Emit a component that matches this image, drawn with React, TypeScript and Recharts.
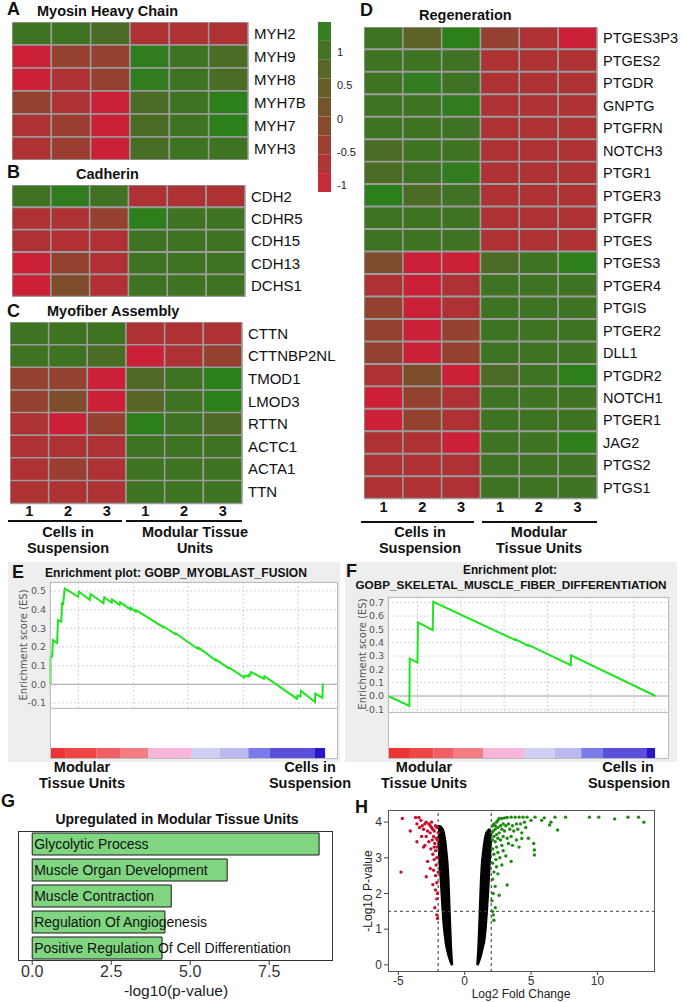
import React from 'react';
import {
  BarChart, Bar, Cell, XAxis, YAxis, ComposedChart, LineChart, Line, Scatter, Area,
  ReferenceLine, CartesianGrid, LabelList,
} from 'recharts';

const FONT = "'Liberation Sans', Arial, Helvetica, sans-serif";
const GFONT = "'DejaVu Sans', 'Liberation Sans', sans-serif";

// ---------------- Heatmap data ----------------
const myosinGenes = ['MYH2', 'MYH9', 'MYH8', 'MYH7B', 'MYH7', 'MYH3'];
const myosinValues = [
  [0.9, 0.9, 0.65, -1, -1, -1],
  [-1.4, -0.6, -0.6, 1.2, 0.9, 0.6],
  [-1.4, -1.0, -0.6, 1.2, 0.9, 0.6],
  [-0.6, -1.0, -1.4, 0.6, 0.9, 1.3],
  [-1.0, -0.7, -1.4, 0.6, 0.9, 1.3],
  [-1.0, -0.7, -1.4, 0.7, 0.9, 0.9],
];

const cadherinGenes = ['CDH2', 'CDHR5', 'CDH15', 'CDH13', 'DCHS1'];
const cadherinValues = [
  [0.85, 1.2, 0.85, -1, -1, -1],
  [-1, -1, -0.6, 1.3, 0.9, 0.9],
  [-1, -1.05, -1.05, 0.9, 0.9, 0.9],
  [-1.4, -0.6, -1.05, 0.9, 0.9, 0.9],
  [-1.4, -0.2, -1.05, 0.9, 0.9, 0.9],
];

const myofiberGenes = ['CTTN', 'CTTNBP2NL', 'TMOD1', 'LMOD3', 'RTTN', 'ACTC1', 'ACTA1', 'TTN'];
const myofiberValues = [
  [0.9, 0.9, 0.9, -1, -1, -1],
  [0.9, 0.9, 0.6, -1.4, -1.0, -0.6],
  [-0.6, -0.6, -1.4, 0.5, 0.9, 1.3],
  [-0.6, -0.2, -1.4, 0.4, 0.9, 1.3],
  [-1.0, -1.4, -0.6, 1.3, 0.9, 0.55],
  [-1, -1, -1, 0.9, 0.9, 0.9],
  [-1, -0.7, -1, 0.9, 0.9, 0.9],
  [-1, -1, -1, 0.9, 0.9, 0.9],
];

const regenGenes = ['PTGES3P3', 'PTGES2', 'PTGDR', 'GNPTG', 'PTGFRN', 'NOTCH3', 'PTGR1', 'PTGER3', 'PTGFR', 'PTGES',
  'PTGES3', 'PTGER4', 'PTGIS', 'PTGER2', 'DLL1', 'PTGDR2', 'NOTCH1', 'PTGER1', 'JAG2', 'PTGS2', 'PTGS1'];
const regenValues = [
  [0.9, 0.3, 1.3, -0.6, -1.0, -1.4],
  [0.9, 0.9, 0.85, -1, -1, -1],
  [0.9, 1.2, 0.85, -1, -1, -1],
  [0.9, 0.9, 1.2, -1, -1, -1],
  [0.9, 0.9, 0.85, -1, -1, -1],
  [0.6, 0.9, 0.9, -1, -1, -1],
  [0.6, 0.9, 1.2, -1, -1, -1],
  [1.3, 0.6, 0.85, -1, -1, -1],
  [0.9, 0.9, 0.9, -1, -1, -1],
  [0.9, 0.9, 0.9, -1, -1, -1],
  [-0.2, -1.4, -1.4, 0.6, 0.9, 1.3],
  [-1.0, -1.4, -1.0, 0.9, 0.9, 0.9],
  [-0.6, -1.4, -1.0, 0.9, 0.9, 0.9],
  [-0.6, -1.4, -0.6, 0.9, 0.9, 0.9],
  [-0.6, -1.4, -0.6, 0.9, 0.9, 0.9],
  [-1.0, -0.2, -1.4, 0.6, 0.9, 1.3],
  [-1.4, -0.6, -1.0, 0.9, 0.9, 0.9],
  [-1.4, -0.6, -1.0, 0.9, 0.9, 0.9],
  [-1.0, -1.0, -1.4, 0.9, 0.9, 1.3],
  [-1, -1, -1, 0.9, 0.9, 0.9],
  [-1, -1, -1, 0.9, 0.9, 0.9],
];

const sampleTicks = [0.5, 1.5, 2.5, 3.5, 4.5, 5.5];
const sampleLabels = ['1', '2', '3', '1', '2', '3'];

// colour key
const legendTicks = [-1, -0.5, 0, 0.5, 1];
const legendBandColors = ['#c62b3a', '#ae3534', '#994030', '#874a2d', '#76542b', '#655d29', '#566727', '#477226', '#387e24'];

// ---------------- GSEA data ----------------
const esMyoblast = [
  [0, 0], [0.2, 0], [0.2, 0.147], [0.8, 0.147], [1.1, 0.237], [2.6, 0.222], [2.9, 0.344], [4.1, 0.335],
  [4.4, 0.434], [4.8, 0.43], [5.1, 0.478], [5.4, 0.514], [10.2, 0.469], [10.6, 0.496], [14.5, 0.452],
  [14.8, 0.484], [19.5, 0.434], [19.8, 0.466], [22.5, 0.437], [22.6, 0.455], [25.4, 0.425], [25.6, 0.44],
  [29.4, 0.4], [29.5, 0.41], [31.3, 0.389], [31.4, 0.397], [41.3, 0.306], [41.4, 0.31], [45.8, 0.268],
  [45.9, 0.272], [53.7, 0.192], [53.8, 0.196], [54.3, 0.19], [54.4, 0.194], [60.4, 0.128], [60.5, 0.132],
  [65.2, 0.085], [65.3, 0.09], [70.8, 0.036], [71.2, 0.047], [72.5, 0.042], [72.6, 0.052], [73.1, 0.05],
  [73.3, 0.066], [78.0, 0.03], [78.2, 0.044], [90.0, -0.077], [90.2, -0.06], [91.3, -0.066], [91.5, -0.036],
  [96.6, -0.095], [96.7, -0.05], [99.3, -0.072], [99.5, 0.004],
];
const hitsMyoblast = [0.2, 1.1, 2.1, 2.9, 4.4, 5.2, 10.6, 14.8, 19.8, 22.6, 25.6, 29.5, 31.4, 41.4, 45.9, 53.8,
  54.4, 60.5, 65.3, 71.2, 72.6, 73.3, 78.2, 90.2, 91.5, 96.7, 99.5];
const esFiber = [
  [0, 0], [8.0, -0.075], [8.1, 0.281], [11.0, 0.251], [11.2, 0.552], [16.7, 0.494], [16.9, 0.707],
  [47.6, 0.419], [47.7, 0.425], [52.3, 0.376], [52.4, 0.383], [68.3, 0.231], [68.4, 0.306], [100, 0],
];
const hitsFiber = [8.1, 11.1, 16.8, 47.6, 52.2, 68.3];
const esTicksMyoblast = [-0.1, 0, 0.1, 0.2, 0.3, 0.4, 0.5];
const esTicksFiber = [-0.1, 0, 0.1, 0.2, 0.3, 0.4, 0.5, 0.6, 0.7];
const gridRanksMyoblast = [10.3, 30.4, 50.4, 70.5, 90.5];
const gridRanksFiber = [11, 27.2, 43.4, 59.6, 75.8, 92];
const metricWidthsMyoblast = [5.5, 11.5, 8.5, 10.3, 15.9, 10.3, 10.3, 7.9, 16.4, 3.7];
const metricWidthsFiber = [8.2, 8.7, 7.4, 11.3, 15.5, 11.2, 9.9, 8.1, 16.2, 3.3];
const metricColors = ['#ef3232', '#f04545', '#f25e66', '#f47c82', '#f7b6da', '#cfcff3', '#babaf0', '#7b7be9', '#5a4fdc', '#2a16c8'];

// ---------------- GO bar data ----------------
const goTerms = ['Glycolytic Process', 'Muscle Organ Development', 'Muscle Contraction', 'Regulation Of Angiogenesis',
  'Positive Regulation Of Cell Differentiation'];
const goValues = [9.08, 6.17, 4.4, 4.2, 4.11];
const goTicks = [0, 2.5, 5, 7.5];

// ---------------- Volcano data ----------------
const volcanoLeftBand = [
  [-2.02, 3.6, 3.85], [-2.0, 3.5, 3.9], [-1.95, 3.05, 3.9], [-1.87, 2.6, 3.9], [-1.8, 2.2, 3.88], [-1.72, 1.7, 3.85],
  [-1.62, 1.15, 3.8], [-1.55, 0.9, 3.72], [-1.45, 0.6, 3.5], [-1.4, 0.5, 3.35], [-1.28, 0.3, 2.9], [-1.2, 0.2, 2.4],
  [-1.15, 0.14, 1.9], [-1.1, 0.09, 1.4], [-1.05, 0.04, 0.9], [-1.0, 0, 0.45], [-0.95, 0, 0.15], [-0.92, 0, 0],
];
const volcanoRightBand = [
  [0.92, 0, 0], [0.95, 0, 0.15], [1.0, 0, 0.45], [1.05, 0.04, 0.9], [1.1, 0.09, 1.4], [1.15, 0.14, 1.9],
  [1.2, 0.2, 2.4], [1.28, 0.3, 2.9], [1.4, 0.5, 3.3], [1.5, 0.65, 3.55], [1.6, 1.0, 3.7], [1.7, 1.5, 3.76],
  [1.8, 2.1, 3.8], [1.9, 2.8, 3.8], [1.97, 3.25, 3.72], [2.0, 3.5, 3.6],
];
const volcanoDown = [
  [-4.7, 4.1], [-4.1, 3.75], [-3.7, 4.13], [-3.45, 4.13], [-3.3, 4.05], [-3.6, 3.95], [-3.2, 3.9], [-3.0, 3.95],
  [-2.9, 4.0], [-2.7, 3.95], [-2.6, 3.9], [-2.5, 3.85], [-2.4, 3.8], [-2.3, 3.75], [-2.2, 3.9], [-2.1, 3.85],
  [-2.6, 3.7], [-2.8, 3.75], [-3.1, 3.8], [-3.4, 3.85], [-2.35, 3.6], [-2.15, 3.55], [-2.45, 3.5], [-2.25, 3.4],
  [-2.7, 3.45], [-3.0, 3.35], [-3.1, 3.3], [-2.55, 3.25], [-2.2, 3.2], [-2.4, 3.1], [-2.1, 3.0], [-2.3, 2.95],
  [-2.8, 2.9], [-2.15, 2.8], [-2.6, 2.7], [-2.35, 2.65], [-2.9, 2.47], [-4.8, 2.6], [-2.2, 2.5], [-2.1, 2.3],
  [-2.4, 2.25], [-2.2, 2.1], [-2.05, 2.0], [-2.1, 1.85], [-2.25, 1.6], [-2.1, 1.4], [-2.05, 1.3], [-3.6, 3.45],
  [-3.25, 3.6], [-2.5, 4.0], [-2.0, 3.7], [-2.05, 3.5], [-2.1, 3.3], [-2.0, 2.6], [-2.3, 3.3], [-2.9, 3.6],
];
const volcanoUp = [
  [2.1, 3.9], [2.2, 3.95], [2.3, 3.9], [2.4, 4.0], [2.5, 4.05], [2.6, 4.1], [2.8, 4.1], [3.0, 4.12], [3.2, 4.13],
  [3.5, 4.14], [3.8, 4.14], [4.1, 4.14], [4.4, 4.14], [4.7, 4.14], [5.3, 4.14], [6.0, 4.12], [6.8, 4.14], [7.6, 4.14],
  [9.4, 4.14], [10.1, 4.14], [11.3, 4.09], [12.3, 4.14], [13.1, 4.14], [13.5, 4.0], [6.5, 4.0], [6.4, 3.92],
  [7.0, 3.78], [5.8, 4.05], [5.0, 4.05], [4.5, 4.0], [4.2, 3.95], [3.9, 3.95], [3.6, 3.9], [3.3, 3.95], [3.1, 3.9],
  [2.9, 3.95], [2.7, 3.9], [2.5, 3.85], [2.3, 3.8], [2.15, 3.75], [2.05, 3.7], [2.2, 3.6], [2.4, 3.65], [2.6, 3.7],
  [2.8, 3.8], [3.0, 3.75], [3.4, 3.8], [3.7, 3.75], [4.0, 3.8], [4.3, 3.7], [4.6, 3.85], [2.1, 3.5], [2.3, 3.45],
  [2.5, 3.55], [2.7, 3.5], [2.9, 3.6], [3.2, 3.55], [3.5, 3.6], [3.9, 3.5], [4.3, 3.54], [4.8, 3.55], [5.2, 3.4],
  [4.1, 3.3], [3.6, 3.35], [3.3, 3.4], [2.8, 3.35], [2.4, 3.3], [2.1, 3.25], [2.2, 3.1], [2.5, 3.15], [2.9, 3.2],
  [3.1, 3.05], [2.35, 2.95], [2.65, 3.0], [5.25, 3.22], [5.25, 3.08], [2.1, 2.85], [2.4, 2.75], [2.8, 2.8],
  [3.5, 2.9], [2.2, 2.6], [2.5, 2.55], [2.1, 2.4], [3.2, 2.24], [2.3, 2.2], [2.15, 2.0], [2.6, 1.95], [2.05, 1.8],
  [2.3, 1.6], [2.15, 1.4], [2.2, 1.25], [2.1, 1.5],
];
const volcanoXTicks = [-5, 0, 5, 10];
const volcanoYTicks = [0, 1, 2, 3, 4];
const fcCutoff = 2;
const pCutoff = 1.5;

// ---------------- helpers ----------------
const HEAT_STOPS: [number, string][] = [
  [-1.4, '#cc2038'], [-1.0, '#ae3133'], [-0.6, '#95412f'], [-0.2, '#7e4d2b'],
  [0.3, '#5d6227'], [0.6, '#4b6c25'], [0.9, '#3e7322'], [1.3, '#2d7f1c'],
];
function rgb(h: string) {
  return [parseInt(h.slice(1, 3), 16), parseInt(h.slice(3, 5), 16), parseInt(h.slice(5, 7), 16)];
}
function heatColor(v: number) {
  if (v <= HEAT_STOPS[0][0]) return HEAT_STOPS[0][1];
  for (let i = 1; i < HEAT_STOPS.length; i++) {
    if (v <= HEAT_STOPS[i][0]) {
      const [v0, c0] = HEAT_STOPS[i - 1];
      const [v1, c1] = HEAT_STOPS[i];
      const t = (v - v0) / (v1 - v0);
      const a = rgb(c0), b = rgb(c1);
      const m = a.map((x, k) => Math.round(x + (b[k] - x) * t));
      return `rgb(${m[0]},${m[1]},${m[2]})`;
    }
  }
  return HEAT_STOPS[HEAT_STOPS.length - 1][1];
}

const COLS = [0, 1, 2, 3, 4, 5];

function Heatmap({ genes, values, left, top, width, height, labelWidth, fontSize, showCols }: any) {
  const data = genes.map((g: string) => ({ gene: g, c0: 1, c1: 1, c2: 1, c3: 1, c4: 1, c5: 1 }));
  const axisH = showCols ? 22 : 0;
  return (
    <div style={{ position: 'absolute', left, top }}>
      <BarChart width={width + labelWidth} height={height + axisH} data={data} layout="vertical"
        margin={{ top: 0, right: 0, bottom: 0, left: 0 }} barCategoryGap={0}>
        <XAxis type="number" domain={[0, 6]} hide={!showCols} ticks={sampleTicks} interval={0}
          tickFormatter={(v: number) => sampleLabels[sampleTicks.indexOf(v)]}
          axisLine={false} tickLine={false} tickSize={0} tickMargin={3} height={axisH || 1}
          tick={{ fontSize: 14.5, fontWeight: 'bold', fill: '#111', fontFamily: FONT }} />
        <YAxis type="category" dataKey="gene" orientation="right" width={labelWidth} interval={0}
          axisLine={false} tickLine={false} tickSize={0} tickMargin={6}
          tick={{ fontSize, fill: '#111', fontFamily: FONT }} />
        {COLS.map((j) => (
          <Bar key={j} dataKey={`c${j}`} stackId="h" isAnimationActive={false} stroke="#9c9c9c" strokeWidth={1.5}>
            {values.map((row: number[], i: number) => <Cell key={i} fill={heatColor(row[j])} />)}
          </Bar>
        ))}
      </BarChart>
    </div>
  );
}

const emptyShape = () => <g />;

function ColorKey() {
  const row: any = { name: 'key', v: 0 };
  legendBandColors.forEach((_, i) => { row[`b${i}`] = 1; });
  return (
    <div style={{ position: 'absolute', left: 310, top: 22 }}>
      <ComposedChart width={62} height={170} data={[row]} margin={{ top: 0, right: 0, bottom: 0, left: 8 }} barCategoryGap={0}>
        <XAxis type="category" dataKey="name" hide />
        <YAxis yAxisId="s" type="number" domain={[0, legendBandColors.length]} hide />
        <YAxis yAxisId="v" type="number" orientation="right" width={41} domain={[-1.1, 1.45]} ticks={legendTicks}
          axisLine={false} tickLine={false} tickSize={4} tickMargin={2} interval={0}
          tick={{ fontSize: 11, fill: '#222', fontFamily: FONT }} />
        {legendBandColors.map((c, i) => (
          <Bar key={i} yAxisId="s" dataKey={`b${i}`} stackId="k" fill={c} isAnimationActive={false} />
        ))}
        <Scatter yAxisId="v" dataKey="v" shape={emptyShape} isAnimationActive={false} />
      </ComposedChart>
    </div>
  );
}

function GseaPanel({ es, hits, ticks, grid, widths, left, width, yAxisW, rightM, esTop, esH, hitsH, domain }: any) {
  const esData = es.map(([r, v]: number[]) => ({ r, es: v }));
  const hitData = hits.map((r: number) => ({ r, y: 0.5 }));
  const barRow: any = { name: 'm' };
  widths.forEach((w: number, i: number) => { barRow[`s${i}`] = w; });
  return (
    <>
      <div style={{ position: 'absolute', left, top: esTop - 2 }}>
        <LineChart width={width} height={esH + 10} data={esData} margin={{ top: 2, right: rightM, bottom: 8, left: 0 }}>
          <CartesianGrid fill="#ffffff" stroke="#d4d4d4" strokeDasharray="2 2" />
          <XAxis type="number" dataKey="r" domain={[0, 105]} ticks={grid} hide />
          <YAxis type="number" domain={domain} ticks={ticks} width={yAxisW} interval={0}
            tickFormatter={(v: number) => v.toFixed(1)} axisLine={false} tickLine={false} tickSize={0} tickMargin={4}
            tick={{ fontSize: 9.5, fill: '#555', fontFamily: GFONT }} />
          <ReferenceLine y={0} stroke="#a8a8a8" strokeWidth={1} />
          <Line dataKey="es" type="linear" stroke="#1ee61e" strokeWidth={2} dot={false} isAnimationActive={false} />
        </LineChart>
      </div>
      <div style={{ position: 'absolute', left, top: esTop + esH }}>
        <ComposedChart width={width} height={hitsH} data={hitData} margin={{ top: 0, right: rightM, bottom: 0, left: yAxisW }}>
          <XAxis type="number" dataKey="r" domain={[0, 105]} hide />
          <YAxis type="number" domain={[0, 1]} hide />
          {hits.map((r: number) => (
            <ReferenceLine key={r} x={r} stroke="#333" strokeWidth={1.1} />
          ))}
        </ComposedChart>
      </div>
      <div style={{ position: 'absolute', left, top: esTop + esH + hitsH }}>
        <BarChart width={width} height={10} data={[barRow]} layout="vertical" barCategoryGap={0}
          margin={{ top: 0, right: rightM, bottom: 0, left: yAxisW }}>
          <XAxis type="number" domain={[0, 105]} hide />
          <YAxis type="category" dataKey="name" hide />
          {widths.map((_: number, i: number) => (
            <Bar key={i} dataKey={`s${i}`} stackId="c" fill={metricColors[i]} isAnimationActive={false} />
          ))}
        </BarChart>
      </div>
    </>
  );
}

const goLabel = (p: any) => {
  const vb = p.viewBox || p;
  return (
    <text x={vb.x + 2} y={vb.y + vb.height / 2} dy="0.36em" fontSize={14} fill="#111" fontFamily={FONT}>
      {p.value}
    </text>
  );
};

function GoBars() {
  const data = goTerms.map((t, i) => ({ term: t, v: goValues[i] }));
  return (
    <div style={{ position: 'absolute', left: 0, top: 826 }}>
      <BarChart width={340} height={157} data={data} layout="vertical" barCategoryGap={2}
        margin={{ top: 5, right: 7, bottom: 0, left: 0 }}>
        <XAxis type="number" domain={[-0.45, 9.52]} ticks={goTicks} interval={0} tickFormatter={(v: number) => v.toFixed(1)}
          height={22} tickSize={4} tickMargin={1} axisLine={false} stroke="#333"
          tick={{ fontSize: 16, fill: '#333', fontFamily: FONT }} />
        <YAxis type="category" dataKey="term" width={18} tick={false} tickSize={4} axisLine={false} stroke="#333" />
        <Bar dataKey="v" fill="#80d680" stroke="#1a1a1a" strokeWidth={1} isAnimationActive={false}>
          <LabelList dataKey="term" content={goLabel} />
        </Bar>
      </BarChart>
    </div>
  );
}

const dot = (r: number) => (p: any) => <circle cx={p.cx} cy={p.cy} r={r} fill={p.fill} />;

function Volcano() {
  const left = volcanoLeftBand.map(([x, lo, hi]) => ({ x, band: [lo, hi] }));
  const right = volcanoRightBand.map(([x, lo, hi]) => ({ x, band: [lo, hi] }));
  const down = volcanoDown.map(([x, p]) => ({ x, p }));
  const up = volcanoUp.map(([x, p]) => ({ x, p }));
  return (
    <div style={{ position: 'absolute', left: 340, top: 800 }}>
      <ComposedChart width={343} height={202} margin={{ top: 10, right: 28, bottom: 0, left: 0 }}>
        <XAxis type="number" dataKey="x" domain={[-5.78, 14.34]} ticks={volcanoXTicks} interval={0} height={30}
          tickSize={3} tickMargin={1} axisLine={false} stroke="#444"
          tick={{ fontSize: 12, fill: '#333', fontFamily: FONT }} />
        <YAxis type="number" dataKey="p" domain={[-0.2, 4.34]} ticks={volcanoYTicks} interval={0} width={48}
          tickSize={4} tickMargin={2} axisLine={false} stroke="#444"
          tick={{ fontSize: 12, fill: '#333', fontFamily: FONT }} />
        <Area data={left} dataKey="band" type="linear" stroke="#000" strokeWidth={1.5} fill="#000" fillOpacity={1}
          isAnimationActive={false} />
        <Area data={right} dataKey="band" type="linear" stroke="#000" strokeWidth={1.5} fill="#000" fillOpacity={1}
          isAnimationActive={false} />
        <Scatter data={down} fill="#c8102e" shape={dot(1.7)} isAnimationActive={false} />
        <Scatter data={up} fill="#1f8a12" shape={dot(1.7)} isAnimationActive={false} />
        <ReferenceLine x={-fcCutoff} stroke="#333" strokeDasharray="3 3" />
        <ReferenceLine x={fcCutoff} stroke="#333" strokeDasharray="3 3" />
        <ReferenceLine y={pCutoff} stroke="#444" strokeDasharray="3 3" />
      </ComposedChart>
    </div>
  );
}

const T = ({ x, y, s = 14, b = false, a = 'start', c = '#111', r = 0, f = FONT, len, children }: any) => (
  <text x={x} y={y} fontSize={s} fontWeight={b ? 'bold' : 'normal'} textAnchor={a} fill={c} fontFamily={f}
    transform={r ? `rotate(${r} ${x} ${y})` : undefined}
    textLength={len} lengthAdjust={len ? 'spacingAndGlyphs' : undefined}>{children}</text>
);

const box = (left: number, top: number, w: number, h: number, border: string, bg = 'transparent', z = 5) => (
  <div style={{ position: 'absolute', left, top, width: w, height: h, border, background: bg, boxSizing: 'border-box', zIndex: z, pointerEvents: 'none' }} />
);

export default function App() {
  return (
    <div style={{ position: 'absolute', left: 0, top: 0, width: 683, height: 1002, background: '#fff', fontFamily: FONT, overflow: 'hidden' }}>
      {/* GSEA grey panels */}
      <div style={{ position: 'absolute', left: 8, top: 562, width: 332, height: 200, background: '#eeeeee' }} />
      <div style={{ position: 'absolute', left: 345, top: 562, width: 332, height: 200, background: '#eeeeee' }} />
      <div style={{ position: 'absolute', left: 50, top: 708, width: 288, height: 51, background: '#fff' }} />
      <div style={{ position: 'absolute', left: 388, top: 712, width: 281, height: 47, background: '#fff' }} />

      <Heatmap genes={myosinGenes} values={myosinValues} left={12} top={22} width={236} height={138} labelWidth={70} fontSize={15} />
      <Heatmap genes={cadherinGenes} values={cadherinValues} left={12} top={185} width={233} height={112} labelWidth={70} fontSize={15} />
      <Heatmap genes={myofiberGenes} values={myofiberValues} left={10} top={322} width={232} height={181} labelWidth={98} fontSize={15} showCols />
      <Heatmap genes={regenGenes} values={regenValues} left={364} top={27} width={233} height={472} labelWidth={86} fontSize={14.5} showCols />
      <ColorKey />

      <GseaPanel es={esMyoblast} hits={hitsMyoblast} ticks={esTicksMyoblast} grid={gridRanksMyoblast}
        widths={metricWidthsMyoblast} left={0} width={340} yAxisW={50} rightM={2}
        esTop={582} esH={126} hitsH={40} domain={[-0.127, 0.548]} />
      <GseaPanel es={esFiber} hits={hitsFiber} ticks={esTicksFiber} grid={gridRanksFiber}
        widths={metricWidthsFiber} left={340} width={343} yAxisW={48} rightM={14}
        esTop={597} esH={115} hitsH={36} domain={[-0.12, 0.743]} />

      <GoBars />
      <Volcano />

      {box(50, 582, 288, 127, '1px solid #bdbdbd')}
      {box(50, 708, 288, 51, '1px solid #bdbdbd')}
      {box(388, 597, 281, 116, '1px solid #bdbdbd')}
      {box(388, 712, 281, 47, '1px solid #bdbdbd')}
      {box(18, 831, 315, 130, '1.5px solid #333')}
      {box(388, 810, 267, 162, '1.5px solid #555')}

      <svg width={683} height={1002} style={{ position: 'absolute', left: 0, top: 0, zIndex: 10, pointerEvents: 'none' }}>
        {/* panel letters */}
        <T x={7} y={15} s={18} b>A</T>
        <T x={7} y={178} s={18} b>B</T>
        <T x={7} y={317} s={18} b>C</T>
        <T x={360} y={16} s={18} b>D</T>
        <T x={12} y={578} s={18} b>E</T>
        <T x={346} y={577} s={18} b>F</T>
        <T x={1} y={807} s={18} b>G</T>
        <T x={355} y={813} s={18} b>H</T>

        {/* heatmap titles */}
        <T x={37} y={16} s={14.5} b>Myosin Heavy Chain</T>
        <T x={76} y={179} s={14.5} b>Cadherin</T>
        <T x={47} y={316} s={14.5} b>Myofiber Assembly</T>
        <T x={419} y={20} s={14.5} b>Regeneration</T>

        {/* group labels */}
        <line x1={8} y1={521} x2={122} y2={521} stroke="#111" strokeWidth={2} />
        <line x1={126} y1={521} x2={242} y2={521} stroke="#111" strokeWidth={2} />
        <line x1={361} y1={522} x2={474} y2={522} stroke="#111" strokeWidth={2} />
        <line x1={482} y1={522} x2={597} y2={522} stroke="#111" strokeWidth={2} />
        <T x={68} y={537} s={14.5} b a="middle">Cells in</T>
        <T x={68} y={553} s={14.5} b a="middle">Suspension</T>
        <T x={195} y={537} s={14.5} b a="middle">Modular Tissue</T>
        <T x={195} y={553} s={14.5} b a="middle">Units</T>
        <T x={420} y={537} s={14.5} b a="middle">Cells in</T>
        <T x={420} y={553} s={14.5} b a="middle">Suspension</T>
        <T x={539} y={537} s={14.5} b a="middle">Modular</T>
        <T x={539} y={553} s={14.5} b a="middle">Tissue Units</T>

        {/* GSEA titles */}
        <T x={45} y={577} s={13} b len={262}>Enrichment plot: GOBP_MYOBLAST_FUSION</T>
        <T x={510} y={574} s={13} b a="middle" len={94}>Enrichment plot:</T>
        <T x={511} y={589} s={11.2} b a="middle" len={311}>GOBP_SKELETAL_MUSCLE_FIBER_DIFFERENTIATION</T>
        <T x={27} y={645} s={10} c="#555" a="middle" r={-90} f={GFONT}>Enrichment score (ES)</T>
        <T x={366} y={654} s={10} c="#555" a="middle" r={-90} f={GFONT}>Enrichment score (ES)</T>
        <T x={82} y={772} s={14.5} b a="middle">Modular</T>
        <T x={82} y={788} s={14.5} b a="middle">Tissue Units</T>
        <T x={310} y={772} s={14.5} b a="middle">Cells in</T>
        <T x={310} y={788} s={14.5} b a="middle">Suspension</T>
        <T x={424} y={772} s={14.5} b a="middle">Modular</T>
        <T x={424} y={788} s={14.5} b a="middle">Tissue Units</T>
        <T x={628} y={772} s={14.5} b a="middle">Cells in</T>
        <T x={629} y={788} s={14.5} b a="middle">Suspension</T>

        {/* GO + volcano titles */}
        <T x={177} y={824} s={14} b a="middle">Upregulated in Modular Tissue Units</T>
        <T x={176} y={996} s={15.5} a="middle" c="#222">-log10(p-value)</T>
        <T x={372} y={891} s={12} a="middle" r={-90} c="#222">-Log10 P-value</T>
        <T x={521} y={998} s={12} a="middle" c="#222">Log2 Fold Change</T>
      </svg>
    </div>
  );
}
